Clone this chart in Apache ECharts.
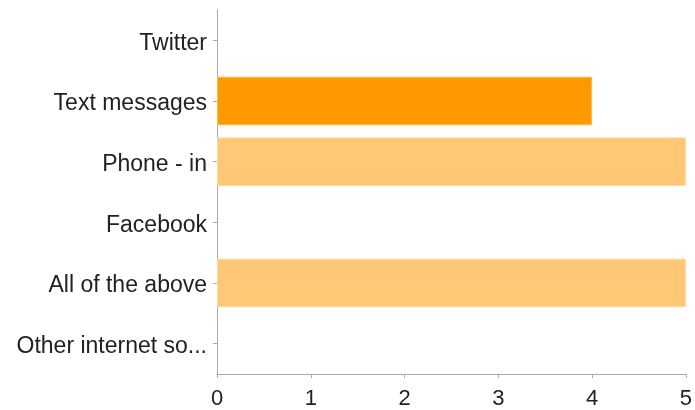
<!DOCTYPE html>
<html>
<head>
<meta charset="utf-8">
<script src="https://cdn.jsdelivr.net/npm/echarts@6/dist/echarts.min.js"></script>
<style>html,body{margin:0;padding:0;background:#fff;}#c{width:695px;height:410px;}</style>
</head>
<body>
<div id="c"></div>
<script>
const categories = ['Twitter', 'Text messages', 'Phone - in', 'Facebook', 'All of the above', 'Other internet so...'];
const values = [0, 4, 5, 0, 5, 0];
const highlight = 'Text messages';
const xTicks = [0, 1, 2, 3, 4, 5];

const chart = echarts.init(document.getElementById('c'), null, {renderer: 'canvas'});
chart.setOption({
  animation: false,
  grid: {left: 217, right: 6, top: 10, bottom: 36, containLabel: false},
  xAxis: {
    type: 'value', min: xTicks[0], max: xTicks[xTicks.length - 1], interval: 1,
    splitLine: {show: false},
    axisLine: {show: true, lineStyle: {color: '#aaa', width: 1}},
    axisTick: {show: true, length: 4, lineStyle: {color: '#aaa'}},
    axisLabel: {color: '#222', fontSize: 22, fontFamily: 'Liberation Sans, Arial, sans-serif', margin: 14}
  },
  yAxis: {
    type: 'category', data: categories, inverse: true,
    axisLine: {show: true, lineStyle: {color: '#aaa', width: 1}},
    axisTick: {show: true, alignWithLabel: true, length: 4, lineStyle: {color: '#aaa'}},
    axisLabel: {
      margin: 10,
      formatter: v => '{a|' + v + '}',
      rich: {a: {color: '#222', fontSize: 23, fontFamily: 'Liberation Sans, Arial, sans-serif', padding: [6, 0, 0, 0]}}
    }
  },
  series: [{
    type: 'bar', barCategoryGap: '20%',
    data: values.map((v, i) => ({
      value: v,
      itemStyle: {
        color: categories[i] === highlight ? '#ff9900' : '#ffc776',
        borderColor: categories[i] === highlight ? '#ffb84d' : '#ffd9a0',
        borderWidth: v > 0 ? 1 : 0
      }
    }))
  }]
});
</script>
</body>
</html>
